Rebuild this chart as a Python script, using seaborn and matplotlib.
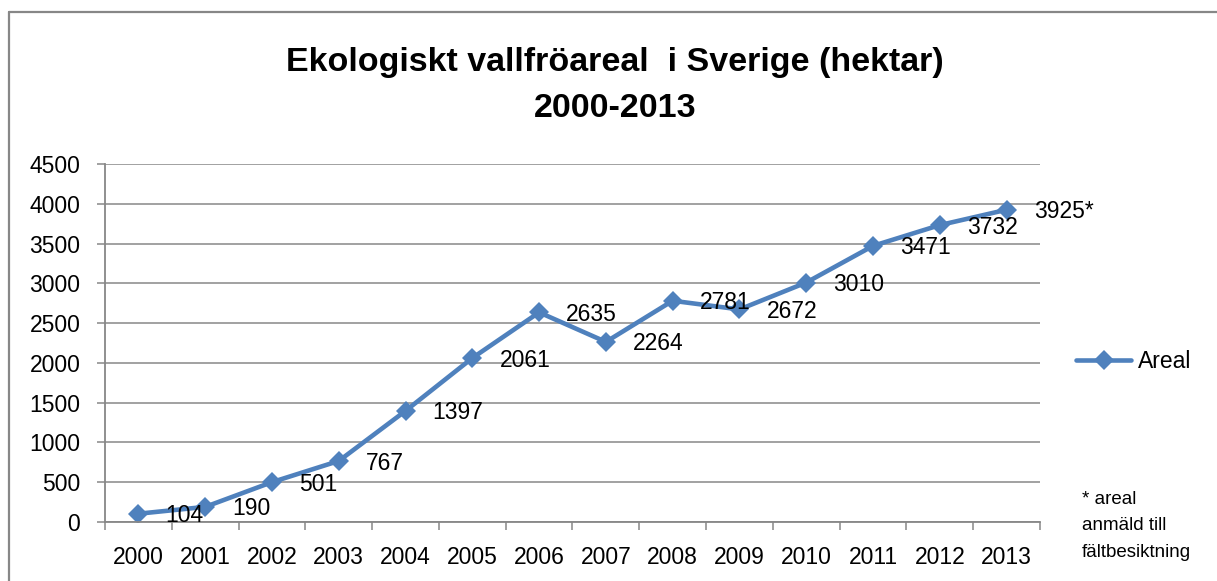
import numpy as np
import matplotlib
matplotlib.use("Agg")
import matplotlib.pyplot as plt
import seaborn as sns
from matplotlib.lines import Line2D
from matplotlib import font_manager

# data
years = ["2000", "2001", "2002", "2003", "2004", "2005", "2006",
         "2007", "2008", "2009", "2010", "2011", "2012", "2013"]
areal = [104, 190, 501, 767, 1397, 2061, 2635, 2264, 2781, 2672, 3010, 3471, 3732, 3925]
yticks = [0, 500, 1000, 1500, 2000, 2500, 3000, 3500, 4000, 4500]

sns.set_theme(style="white")
plt.rcParams['font.family'] = ['Liberation Sans', 'DejaVu Sans']
plt.rcParams.update({'text.color': 'black', 'xtick.labelcolor': 'black',
                     'ytick.labelcolor': 'black'})

blue = "#4F81BD"
grey = "#878787"

# narrow font for the title if there is one
names = {f.name for f in font_manager.fontManager.ttflist}
if "Liberation Sans Narrow" in names:
    title_fam, title_size = ["Liberation Sans Narrow", "DejaVu Sans"], 27
else:
    title_fam, title_size = ["Liberation Sans", "DejaVu Sans"], 24.5

fig = plt.figure(figsize=(12.17, 5.81), dpi=100)
ax = fig.add_axes([105 / 1217, 1 - 522 / 581, 935 / 1217, 358 / 581])

pos = np.arange(len(years))
sns.lineplot(x=pos, y=areal, ax=ax, color=blue, linewidth=3.3, marker="D",
             markersize=10.5, markeredgewidth=0, label="Areal", sort=False)

# data labels
labels = [str(v) for v in areal]
labels[-1] += "*"
for x, y, t in zip(pos, areal, labels):
    ax.annotate(t, (x, y), xytext=(19.5, -1.5), textcoords="offset points",
                ha="left", va="center", fontsize=16.5, color="black")

ax.set_xlim(-0.5, len(years) - 0.5)
ax.set_ylim(0, 4500)
ax.set_yticks(yticks)
ax.set_xticks(pos)
ax.set_xticklabels(years)
ax.set_xticks(np.arange(-0.5, len(years)), minor=True)
ax.yaxis.grid(True, color=grey, linewidth=1.1)
ax.set_axisbelow(True)
for s in ["top", "right"]:
    ax.spines[s].set_visible(False)
for s in ["left", "bottom"]:
    ax.spines[s].set_color(grey)
    ax.spines[s].set_linewidth(1.3)
ax.tick_params(axis="y", which="major", direction="out", length=5.8, width=1.1,
               color=grey, pad=12, labelsize=16.5, left=True)
ax.tick_params(axis="x", which="major", length=0, pad=17, labelsize=16.5)
ax.tick_params(axis="x", which="minor", direction="out", length=5.8, width=1.1,
               color=grey, bottom=True)
ax.set_xlabel("")
ax.set_ylabel("")

# legend
leg = ax.legend(loc="center left", bbox_to_anchor=(1076 / 1217, 1 - 362 / 581),
                bbox_transform=fig.transFigure, frameon=False, fontsize=16.5,
                handlelength=2.4, handletextpad=0.3, borderpad=0, borderaxespad=0)
for t in leg.get_texts():
    t.set_color("black")

# title
fig.text(615 / 1217, 1 - 62 / 581, "Ekologiskt vallfröareal  i Sverige (hektar)",
         ha="center", va="center", fontsize=title_size, fontweight="bold",
         family=title_fam, color="black")
fig.text(615 / 1217, 1 - 108 / 581, "2000-2013",
         ha="center", va="center", fontsize=title_size, fontweight="bold",
         family=title_fam, color="black")

# footnote
fig.text(1082 / 1217, 1 - 491 / 581, "* areal\nanmäld till\nfältbesiktning",
         ha="left", va="top", fontsize=13.5, linespacing=1.72, color="black")

# chart border (top and left edge)
fig.add_artist(Line2D([9 / 1217, 1], [1 - 12 / 581, 1 - 12 / 581],
                      transform=fig.transFigure, color=grey, linewidth=1.6))
fig.add_artist(Line2D([9 / 1217, 9 / 1217], [0, 1 - 12 / 581],
                      transform=fig.transFigure, color=grey, linewidth=1.6))

fig.savefig("out.png", dpi=100)
